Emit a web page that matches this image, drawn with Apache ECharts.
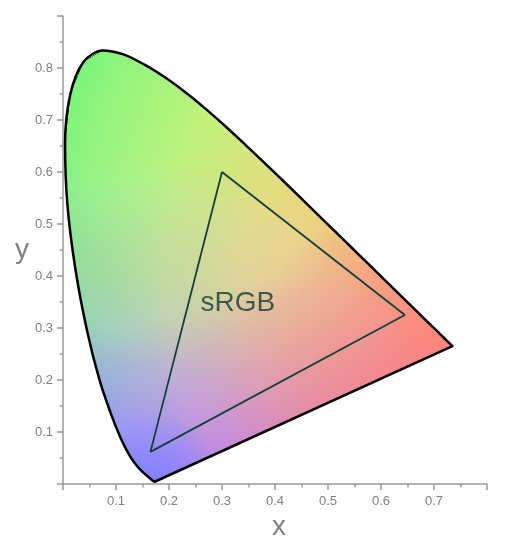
<!DOCTYPE html>
<html>
<head>
<meta charset="utf-8">
<script src="https://cdn.jsdelivr.net/npm/echarts@6/dist/echarts.min.js"></script>
<style>
  html, body { margin: 0; padding: 0; background: #fff; }
  #chart { width: 513px; height: 546px; }
</style>
</head>
<body>
<div id="chart"></div>
<script>
  // spectral locus (CIE 1931 x, y), 380nm -> 700nm
  var locusX = [0.1741, 0.1738, 0.1733, 0.1726, 0.1714, 0.1703, 0.1689, 0.1669, 0.1644, 0.1611,
    0.1566, 0.1510, 0.1440, 0.1355, 0.1241, 0.1096, 0.0913, 0.0687, 0.0454, 0.0235,
    0.0082, 0.0039, 0.0139, 0.0389, 0.0743, 0.1142, 0.1547, 0.1929, 0.2296, 0.2658,
    0.3016, 0.3373, 0.3731, 0.4087, 0.4441, 0.4788, 0.5125, 0.5448, 0.5752, 0.6029,
    0.6270, 0.6482, 0.6658, 0.6801, 0.6915, 0.7006, 0.7079, 0.7140, 0.7190, 0.7230,
    0.7260, 0.7283, 0.7300, 0.7320, 0.7347];
  var locusY = [0.0050, 0.0049, 0.0048, 0.0048, 0.0051, 0.0058, 0.0069, 0.0086, 0.0109, 0.0138,
    0.0177, 0.0227, 0.0297, 0.0399, 0.0578, 0.0868, 0.1327, 0.2007, 0.2950, 0.4127,
    0.5384, 0.6548, 0.7502, 0.8120, 0.8338, 0.8262, 0.8059, 0.7816, 0.7543, 0.7243,
    0.6923, 0.6589, 0.6245, 0.5896, 0.5547, 0.5202, 0.4866, 0.4544, 0.4242, 0.3965,
    0.3725, 0.3514, 0.3340, 0.3197, 0.3083, 0.2993, 0.2920, 0.2859, 0.2809, 0.2770,
    0.2740, 0.2717, 0.2700, 0.2680, 0.2653];

  // sRGB triangle: G, R, B, back to G
  var srgbX = [0.30, 0.645, 0.165, 0.30];
  var srgbY = [0.60, 0.325, 0.062, 0.60];

  var gamutLabel = ['sRGB'];
  var gamutLabelPos = [0.330, 0.347];

  var xTickLabels = ['0.1', '0.2', '0.3', '0.4', '0.5', '0.6', '0.7'];
  var yTickLabels = ['0.1', '0.2', '0.3', '0.4', '0.5', '0.6', '0.7', '0.8'];

  // fill shading: channel centre + [distance, value]
  var redCentre = [0.85, 0.40];
  var redFalloff = [[0, 255], [0.18, 252], [0.33, 240], [0.44, 232], [0.52, 222], [0.54, 216],
    [0.62, 200], [0.66, 194], [0.7, 180], [0.77, 162], [0.83, 148], [0.9, 125]];
  var greenFalloff = [[0, 245], [0.25, 242], [0.38, 224], [0.52, 210], [0.6, 182], [0.7, 156],
    [0.8, 138], [0.9, 128]];
  var blueCentre = [0.12, 0.0];
  var blueFalloff = [[0, 255], [0.12, 240], [0.15, 226], [0.21, 216], [0.3, 186], [0.36, 170],
    [0.39, 161], [0.55, 142], [0.6, 130], [0.7, 124], [0.85, 124]];
  var tipFalloff = [[0, 0.7], [0.06, 0.4], [0.13, 0]];

  var myChart = echarts.init(document.getElementById('chart'));

  function radial(api, cx, cy, falloff, toColor) {
    var c = api.coord([cx, cy]);
    var radius = falloff[falloff.length - 1][0];
    var r = api.size([radius, 0])[0];
    return {
      type: 'radial', x: c[0], y: c[1], r: r, global: true,
      colorStops: falloff.map(function (s) {
        return { offset: s[0] / radius, color: toColor(s[1]) };
      })
    };
  }

  function labelFmt(list) {
    return function (v) {
      var s = v.toFixed(1);
      return list.indexOf(s) >= 0 ? s : '';
    };
  }

  function locusPoints(api) {
    return locusX.map(function (x, i) { return api.coord([x, locusY[i]]); });
  }

  var axisGray = '#9a9a9a';
  var last = locusX.length - 1;
  var peak = locusY.indexOf(Math.max.apply(null, locusY));

  var option = {
    animation: false,
    textStyle: { fontFamily: 'Liberation Sans' },
    grid: { left: 63, right: 26, top: 16, bottom: 54 },
    xAxis: {
      type: 'value', min: 0, max: 0.8, interval: 0.1,
      name: 'x', nameLocation: 'middle', nameGap: 26,
      nameTextStyle: { fontSize: 28, color: '#808080', padding: [0, 0, 0, 8] },
      axisLine: { show: true, onZero: false, lineStyle: { color: axisGray, width: 1.5 } },
      axisTick: { show: true, length: 6, lineStyle: { color: axisGray, width: 1.5 } },
      minorTick: { show: true, splitNumber: 2, length: 3.5, lineStyle: { color: axisGray, width: 1.5 } },
      splitLine: { show: false },
      axisLabel: { color: '#808080', fontSize: 13, margin: 11, formatter: labelFmt(xTickLabels) }
    },
    yAxis: {
      type: 'value', min: 0, max: 0.9, interval: 0.1,
      name: 'y', nameLocation: 'middle', nameGap: 30, nameRotate: 0,
      nameTextStyle: { fontSize: 28, color: '#808080' },
      axisLine: { show: true, onZero: false, lineStyle: { color: axisGray, width: 1.5 } },
      axisTick: { show: true, length: 6, lineStyle: { color: axisGray, width: 1.5 } },
      minorTick: { show: true, splitNumber: 2, length: 3.5, lineStyle: { color: axisGray, width: 1.5 } },
      splitLine: { show: false },
      axisLabel: { color: '#808080', fontSize: 13, margin: 10, formatter: labelFmt(yTickLabels) }
    },
    series: [
      {
        // colour fill of the horseshoe, channels added together
        type: 'custom',
        silent: true,
        blendMode: 'lighter',
        z: 1,
        data: [[locusX[0], locusY[0]]],
        renderItem: function (params, api) {
          var pts = locusPoints(api);
          return {
            type: 'group',
            children: [
              { type: 'polygon', shape: { points: pts }, style: { fill: '#000' } },
              { type: 'polygon', shape: { points: pts }, style: {
                fill: radial(api, redCentre[0], redCentre[1], redFalloff, function (v) { return 'rgb(' + v + ',0,0)'; }) } },
              { type: 'polygon', shape: { points: pts }, style: {
                fill: radial(api, locusX[peak], locusY[peak], greenFalloff, function (v) { return 'rgb(0,' + v + ',0)'; }) } },
              { type: 'polygon', shape: { points: pts }, style: {
                fill: radial(api, blueCentre[0], blueCentre[1], blueFalloff, function (v) { return 'rgb(0,0,' + v + ')'; }) } }
            ]
          };
        }
      },
      {
        // deeper blue at the violet end
        type: 'custom',
        silent: true,
        z: 2,
        data: [[locusX[0], locusY[0]]],
        renderItem: function (params, api) {
          return {
            type: 'polygon', shape: { points: locusPoints(api) },
            style: { fill: radial(api, locusX[0], locusY[0], tipFalloff, function (a) { return 'rgba(118,128,255,' + a + ')'; }) }
          };
        }
      },
      {
        // curved edge of the locus
        type: 'line',
        silent: true,
        z: 3,
        symbol: 'none',
        smooth: 0.3,
        data: locusX.map(function (x, i) { return [x, locusY[i]]; }),
        lineStyle: { color: '#000', width: 2.5, join: 'round' }
      },
      {
        // line of purples
        type: 'line',
        silent: true,
        z: 3,
        symbol: 'none',
        data: [[locusX[last], locusY[last]], [locusX[0], locusY[0]]],
        lineStyle: { color: '#000', width: 2.5, cap: 'round' }
      },
      {
        type: 'line',
        silent: true,
        z: 4,
        symbol: 'none',
        data: srgbX.map(function (x, i) { return [x, srgbY[i]]; }),
        lineStyle: { color: '#153f3b', width: 1.8 }
      },
      {
        type: 'scatter',
        silent: true,
        z: 5,
        symbolSize: 0,
        data: [gamutLabelPos],
        label: {
          show: true, position: 'inside', formatter: gamutLabel[0],
          fontSize: 28, color: '#133d39'
        }
      }
    ]
  };

  myChart.setOption(option);
</script>
</body>
</html>
